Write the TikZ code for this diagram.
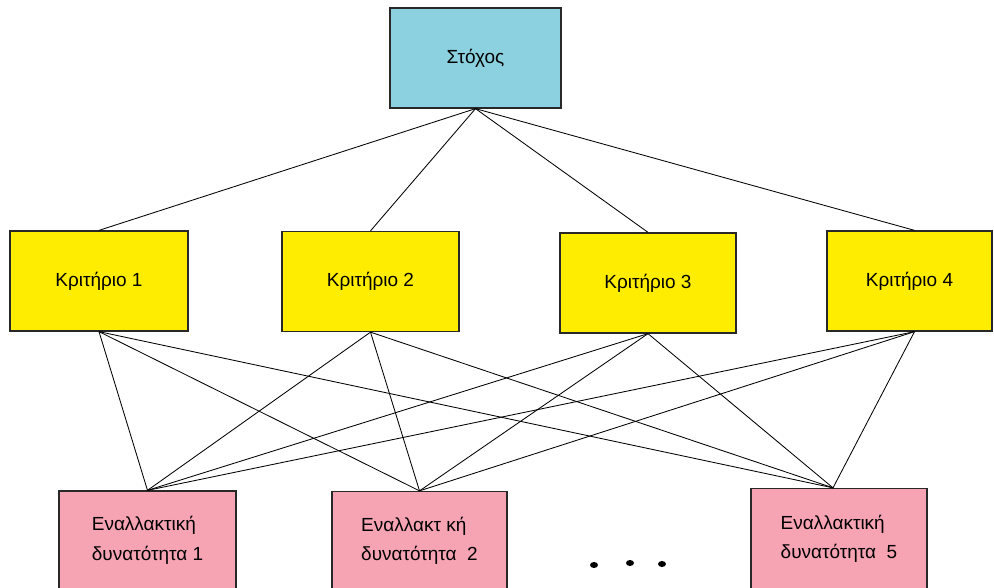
\documentclass[tikz,border=0pt]{standalone}
\usepackage{fontspec}
\setmainfont{Liberation Sans}
\usepackage{xcolor}
\usetikzlibrary{positioning}
\definecolor{goalblue}{RGB}{139, 209, 224}
\definecolor{crityellow}{RGB}{255, 237, 0}
\definecolor{altpink}{RGB}{246, 164, 180}
\definecolor{boxedge}{RGB}{40, 40, 40}

\begin{document}
\begin{tikzpicture}[
    x=0.025cm, y=-0.025cm,
    box/.style={
        rectangle,
        draw=boxedge,
        line width=0.9pt,
        minimum height=2.5cm,
        inner sep=0pt,
        text centered,
        font=\fontsize{13.5}{21}\selectfont
    },
    goal/.style={box, fill=goalblue, minimum width=4.275cm},
    crit/.style={box, fill=crityellow, minimum width=4.45cm},
    alt/.style={box, fill=altpink, minimum width=4.4cm, minimum height=2.475cm, align=left},
    link/.style={line width=0.6pt, black}
]

% Frame of the picture
\clip (0,0) rectangle (994,587.5);
\fill[white] (0,0) rectangle (994,588);

% Goal
\node[goal] (goal) at (475.5,58) {Στόχος};

% Criteria
\node[crit] (crit1) at (99,281) {Κριτήριο 1};
\node[crit, minimum width=4.425cm] (crit2) at (370.5,281.5) {Κριτήριο 2};
\node[crit, minimum width=4.4cm] (crit3) at (648,283) {Κριτήριο 3};
\node[crit, minimum width=4.125cm] (crit4) at (909.5,281) {Κριτήριο 4};

% Alternatives
\node[alt, minimum width=4.425cm] (alt1) at (147.5,540.5) {Εναλλακτική\\δυνατότητα 1};
\node[alt, minimum width=4.375cm] (alt2) at (419.5,541) {Εναλλακτ κή\\δυνατότητα\ \ 2};
\node[alt, minimum height=2.525cm] (alt5) at (839,539) {Εναλλακτική\\δυνατότητα\ \ 5};

% Dots between the alternatives
\fill (594,565) ellipse (4 and 3);
\fill (630,563) ellipse (4 and 3);
\fill (662,564) ellipse (4 and 3);

% Goal to criteria
\draw[link] (goal.south) -- (crit1.north);
\draw[link] (goal.south) -- (crit2.north);
\draw[link] (goal.south) -- (crit3.north);
\draw[link] (goal.south) -- ([xshift=0.125cm]crit4.north);

% Criteria to alternatives
\draw[link] (crit1.south) -- (alt1.north);
\draw[link] (crit1.south) -- (alt2.north);
\draw[link] (crit1.south) -- ([xshift=-0.15cm]alt5.north);
\draw[link] (crit2.south) -- (alt1.north);
\draw[link] (crit2.south) -- (alt2.north);
\draw[link] (crit2.south) -- ([xshift=-0.15cm]alt5.north);
\draw[link] (crit3.south) -- (alt1.north);
\draw[link] (crit3.south) -- (alt2.north);
\draw[link] (crit3.south) -- ([xshift=-0.15cm]alt5.north);
\draw[link] ([xshift=0.125cm]crit4.south) -- (alt1.north);
\draw[link] ([xshift=0.125cm]crit4.south) -- (alt2.north);
\draw[link] ([xshift=0.125cm]crit4.south) -- ([xshift=-0.15cm]alt5.north);

\end{tikzpicture}
\end{document}
